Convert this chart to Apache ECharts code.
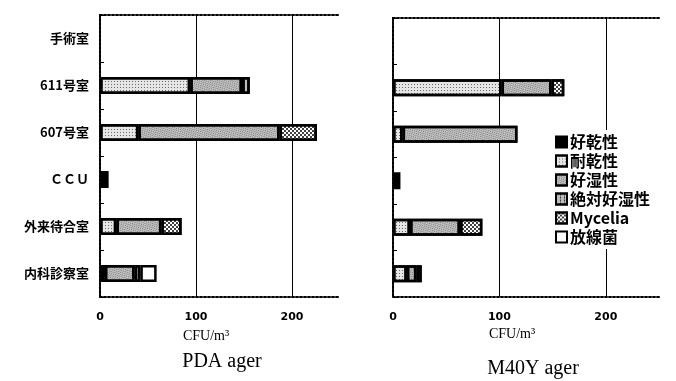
<!DOCTYPE html>
<html><head><meta charset="utf-8">
<script src="https://cdn.jsdelivr.net/npm/echarts@6/dist/echarts.min.js"></script>
<style>html,body{margin:0;padding:0;background:#fff}#c{width:676px;height:381px}</style>
</head><body><div id="c"></div>
<script>
const categories = ['手術室', '611号室', '607号室', 'ＣＣＵ', '外来待合室', '内科診察室'];
const seriesNames = ['好乾性', '耐乾性', '好湿性', '絶対好湿性', 'Mycelia', '放線菌'];
const xTicks = [0, 100, 200];
const xMax = 250;

// PDA ager (left panel), per category
const pda_kokansei   = [0, 0, 0, 9, 0, 0];
const pda_taikansei  = [0, 94, 40, 0, 17, 5];
const pda_koshitsu   = [0, 54, 147, 0, 47, 31];
const pda_zettai     = [0, 8, 0, 0, 0, 6];
const pda_mycelia    = [0, 0, 39, 0, 21, 0];
const pda_hosenkin   = [0, 0, 0, 0, 0, 17];

// M40Y ager (right panel)
const m40_kokansei   = [0, 0, 0, 7, 0, 0];
const m40_taikansei  = [0, 102, 9, 0, 16, 13];
const m40_koshitsu   = [0, 47, 108, 0, 47, 9];
const m40_zettai     = [0, 0, 0, 0, 0, 5];
const m40_mycelia    = [0, 12, 0, 0, 21, 0];
const m40_hosenkin   = [0, 0, 0, 0, 0, 0];

const styles = [
  {color: '#000'},
  {color: '#e6e6e6', decal: {symbol: 'rect', symbolSize: 1, color: 'rgba(0,0,0,0.55)', dashArrayX: [1, 2], dashArrayY: [1, 2], rotation: 0}},
  {color: '#c4c4c4', decal: {symbol: 'rect', symbolSize: 1, color: 'rgba(60,60,60,0.6)', dashArrayX: [[1, 1], [0, 1, 1, 0]], dashArrayY: [1, 1], rotation: 0.3}},
  {color: '#bbbbbb', decal: {symbol: 'rect', symbolSize: 1, color: 'rgba(0,0,0,0.7)', dashArrayX: [1, 3], dashArrayY: [2, 1], rotation: 0}},
  {color: '#ffffff', decal: {symbol: 'rect', symbolSize: 1, color: 'rgba(0,0,0,0.75)', dashArrayX: [[2, 2], [0, 2, 2, 0]], dashArrayY: [2, 0], rotation: 0}},
  {color: '#ffffff'}
];

const pda = [pda_kokansei, pda_taikansei, pda_koshitsu, pda_zettai, pda_mycelia, pda_hosenkin];
const m40 = [m40_kokansei, m40_taikansei, m40_koshitsu, m40_zettai, m40_mycelia, m40_hosenkin];

const dotted = {color: '#000', width: 2, type: [2, 2]};
const catFont = {color: '#000', fontSize: 13, fontWeight: 'bold', fontFamily: 'Noto Sans CJK JP'};
const numFont = {color: '#000', fontSize: 11, fontWeight: 'bold', fontFamily: 'DejaVu Sans'};

function xAxes(gi) {
  return [
    {gridIndex: gi, type: 'value', min: 0, max: xMax, interval: 100, position: 'bottom',
     axisLine: {show: true, lineStyle: dotted}, axisTick: {show: false},
     axisLabel: {show: true, ...numFont, margin: 15, showMaxLabel: false,
       formatter: v => xTicks.includes(v) ? String(v) : ''},
     splitLine: {show: true, showMinLine: false, showMaxLine: false, lineStyle: {color: '#000', width: 1}}},
    {gridIndex: gi, type: 'value', min: 0, max: xMax, position: 'top',
     axisLine: {show: true, lineStyle: dotted}, axisTick: {show: false}, axisLabel: {show: false}, splitLine: {show: false}}
  ];
}
function yAxes(gi, labels) {
  return [
    {gridIndex: gi, type: 'category', data: categories, inverse: true, position: 'left',
     axisLine: {show: true, lineStyle: dotted},
     axisTick: {show: true, inside: true, length: 4, lineStyle: {color: '#000', width: 1}},
     axisLabel: {show: labels, ...catFont, margin: 11}},
    {gridIndex: gi, type: 'category', data: categories, inverse: true, position: 'right',
     axisLine: {show: true, lineStyle: dotted}, axisTick: {show: false}, axisLabel: {show: false}}
  ];
}

const series = [];
function addSeries(data, gi, stack) {
  data.forEach((arr, i) => {
    series.push({
      name: seriesNames[i], type: 'bar', stack: stack,
      xAxisIndex: gi * 2, yAxisIndex: gi * 2, barWidth: 17,
      itemStyle: {color: styles[i].color, decal: styles[i].decal, borderColor: '#000', borderWidth: 2.5},
      emphasis: {disabled: true},
      data: arr.map(v => v === 0 ? '-' : v)
    });
  });
}
addSeries(pda, 0, 'pda');
addSeries(m40, 1, 'm40');

const chart = echarts.init(document.getElementById('c'));
chart.setOption({
  animation: false,
  backgroundColor: '#fff',
  grid: [
    {left: 100, right: 336, top: 15, bottom: 84},
    {left: 393, right: 17, top: 18, bottom: 84}
  ],
  xAxis: [...xAxes(0), ...xAxes(1)],
  yAxis: [...yAxes(0, true), ...yAxes(1, false)],
  legend: {
    data: seriesNames, orient: 'vertical', left: 550, top: 130,
    backgroundColor: '#fff', padding: [3, 6, 3, 5],
    itemWidth: 11, itemHeight: 11, itemGap: 1, icon: 'rect',
    textStyle: {color: '#000', fontSize: 16, lineHeight: 18, fontWeight: 'bold', fontFamily: 'Noto Sans CJK JP', padding: [0, 0, 0, -2]},
    selectedMode: false
  },
  graphic: [
    {type: 'text', x: 206, y: 336, style: {text: 'CFU/m³', font: '14px "Liberation Serif"', fill: '#000', textAlign: 'center', textVerticalAlign: 'middle'}},
    {type: 'text', x: 512, y: 334, style: {text: 'CFU/m³', font: '14px "Liberation Serif"', fill: '#000', textAlign: 'center', textVerticalAlign: 'middle'}},
    {type: 'text', x: 222, y: 362, style: {text: 'PDA ager', font: '20px "Liberation Serif"', fill: '#000', textAlign: 'center', textVerticalAlign: 'middle'}},
    {type: 'text', x: 533, y: 369, style: {text: 'M40Y ager', font: '20px "Liberation Serif"', fill: '#000', textAlign: 'center', textVerticalAlign: 'middle'}}
  ],
  series: series
});
</script></body></html>
